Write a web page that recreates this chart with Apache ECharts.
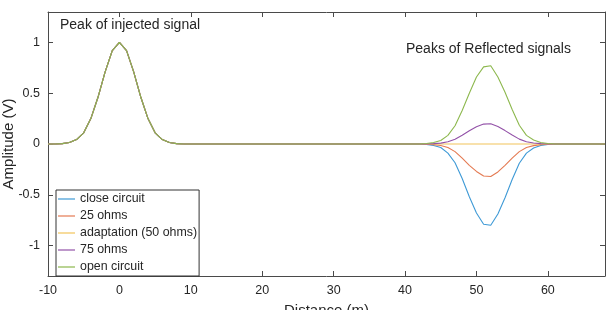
<!DOCTYPE html>
<html>
<head>
<meta charset="utf-8">
<style>
html, body { margin: 0; padding: 0; background: #fff; }
#main { width: 611px; height: 310px; }
</style>
</head>
<body>
<div id="main"></div>
<script src="https://cdn.jsdelivr.net/npm/echarts@6/dist/echarts.min.js"></script>
<script>
// injected pulse, same for every load
var distInjected = [-10, -9, -8, -7, -6, -5, -4, -3, -2, -1, 0, 1, 2, 3, 4, 5, 6, 7, 8, 9, 10];
var injected = [0, 0, 0.004, 0.014, 0.044, 0.11, 0.25, 0.46, 0.71, 0.92, 1, 0.92, 0.71, 0.46, 0.25, 0.11, 0.044, 0.014, 0.004, 0, 0];

// reflected pulses
var distReflected = [42, 43, 44, 45, 46, 47, 48, 49, 50, 51, 52, 53, 54, 55, 56, 57, 58, 59, 60, 61, 62];
var closeCircuit = [0, -0.005, -0.015, -0.035, -0.09, -0.185, -0.34, -0.52, -0.68, -0.79, -0.80, -0.69, -0.53, -0.35, -0.19, -0.09, -0.04, -0.015, -0.005, 0, 0];
var ohms25 = [0, -0.002, -0.006, -0.014, -0.035, -0.075, -0.14, -0.21, -0.27, -0.315, -0.32, -0.275, -0.21, -0.14, -0.075, -0.035, -0.016, -0.006, -0.002, 0, 0];
var ohms50 = [0, 0, 0, 0, 0, 0, 0, 0, 0, 0, 0, 0, 0, 0, 0, 0, 0, 0, 0, 0, 0];
var ohms75 = [0, 0.001, 0.004, 0.009, 0.022, 0.046, 0.086, 0.13, 0.17, 0.196, 0.20, 0.172, 0.132, 0.088, 0.048, 0.022, 0.01, 0.004, 0.001, 0, 0];
var openCircuit = [0, 0.005, 0.015, 0.035, 0.085, 0.18, 0.33, 0.50, 0.66, 0.76, 0.77, 0.66, 0.51, 0.34, 0.185, 0.085, 0.04, 0.015, 0.005, 0, 0];
var distEnd = 68;

var names = ['close circuit', '25 ohms', 'adaptation (50 ohms)', '75 ohms', 'open circuit'];
var colors = ['#3f9ad6', '#e47a52', '#f2c45a', '#9352a8', '#8db84e'];
var xTicks = [-10, 0, 10, 20, 30, 40, 50, 60];
var yTicks = [-1, -0.5, 0, 0.5, 1];

function build(refl) {
    var pts = [];
    for (var i = 0; i < distInjected.length; i++) pts.push([distInjected[i], injected[i]]);
    for (var j = 0; j < distReflected.length; j++) pts.push([distReflected[j], refl[j]]);
    pts.push([distEnd, 0]);
    return pts;
}

var allRefl = [closeCircuit, ohms25, ohms50, ohms75, openCircuit];
var series = [];
for (var k = 0; k < names.length; k++) {
    series.push({
        name: names[k],
        type: 'line',
        symbol: 'none',
        animation: false,
        lineStyle: { width: 1.1, color: colors[k] },
        itemStyle: { color: colors[k] },
        data: build(allRefl[k])
    });
}

var axisCol = '#4a4a4a';
var txtCol = '#262626';
var font = 'Liberation Sans, Arial, sans-serif';

var myChart = echarts.init(document.getElementById('main'));
var option = {
    animation: false,
    grid: { left: 48, right: 6, top: 12, bottom: 34, outerBoundsMode: 'none', containLabel: false },
    legend: {
        orient: 'vertical',
        left: 56,
        top: 190,
        data: names,
        icon: 'rect',
        itemWidth: 17,
        itemHeight: 1.2,
        itemGap: 3,
        padding: [2, 2, 2, 2],
        borderColor: '#333',
        borderWidth: 1,
        backgroundColor: '#fff',
        borderRadius: 0,
        textStyle: { fontSize: 12.4, color: txtCol, fontFamily: font, lineHeight: 14 }
    },
    xAxis: [{
        type: 'value',
        min: -10,
        max: 68,
        interval: 10,
        name: 'Distance (m)',
        nameLocation: 'middle',
        nameGap: 27,
        nameMoveOverlap: false,
        nameTextStyle: { fontSize: 15, color: txtCol, fontFamily: font, verticalAlign: 'top' },
        axisLine: { onZero: false, lineStyle: { color: axisCol, width: 1 } },
        axisTick: { inside: true, length: 5, customValues: xTicks, lineStyle: { color: axisCol } },
        axisLabel: { customValues: xTicks, fontSize: 12.5, color: txtCol, fontFamily: font, margin: 8 },
        splitLine: { show: false }
    }, {
        type: 'value',
        position: 'top',
        min: -10,
        max: 68,
        interval: 10,
        axisLine: { onZero: false, lineStyle: { color: axisCol, width: 1 } },
        axisTick: { inside: true, length: 5, customValues: xTicks, lineStyle: { color: axisCol } },
        axisLabel: { show: false },
        splitLine: { show: false }
    }],
    yAxis: [{
        type: 'value',
        min: -1.3,
        max: 1.3,
        name: 'Amplitude (V)',
        nameLocation: 'middle',
        nameGap: 32,
        nameMoveOverlap: false,
        nameTextStyle: { fontSize: 15, color: txtCol, fontFamily: font },
        axisLine: { show: true, onZero: false, lineStyle: { color: axisCol, width: 1 } },
        axisTick: { show: true, inside: true, length: 5, customValues: yTicks, lineStyle: { color: axisCol } },
        axisLabel: { customValues: yTicks, fontSize: 12.5, color: txtCol, fontFamily: font, margin: 8 },
        splitLine: { show: false }
    }, {
        type: 'value',
        position: 'right',
        min: -1.3,
        max: 1.3,
        axisLine: { show: true, onZero: false, lineStyle: { color: axisCol, width: 1 } },
        axisTick: { show: true, inside: true, length: 5, customValues: yTicks, lineStyle: { color: axisCol } },
        axisLabel: { show: false },
        splitLine: { show: false }
    }],
    graphic: [{
        type: 'text',
        left: 60,
        top: 18,
        style: { text: 'Peak of injected signal', fontSize: 14, fill: txtCol, fontFamily: font }
    }, {
        type: 'text',
        left: 406,
        top: 42,
        style: { text: 'Peaks of Reflected signals', fontSize: 14, fill: txtCol, fontFamily: font }
    }],
    series: series
};
myChart.setOption(option);
</script>
</body>
</html>
